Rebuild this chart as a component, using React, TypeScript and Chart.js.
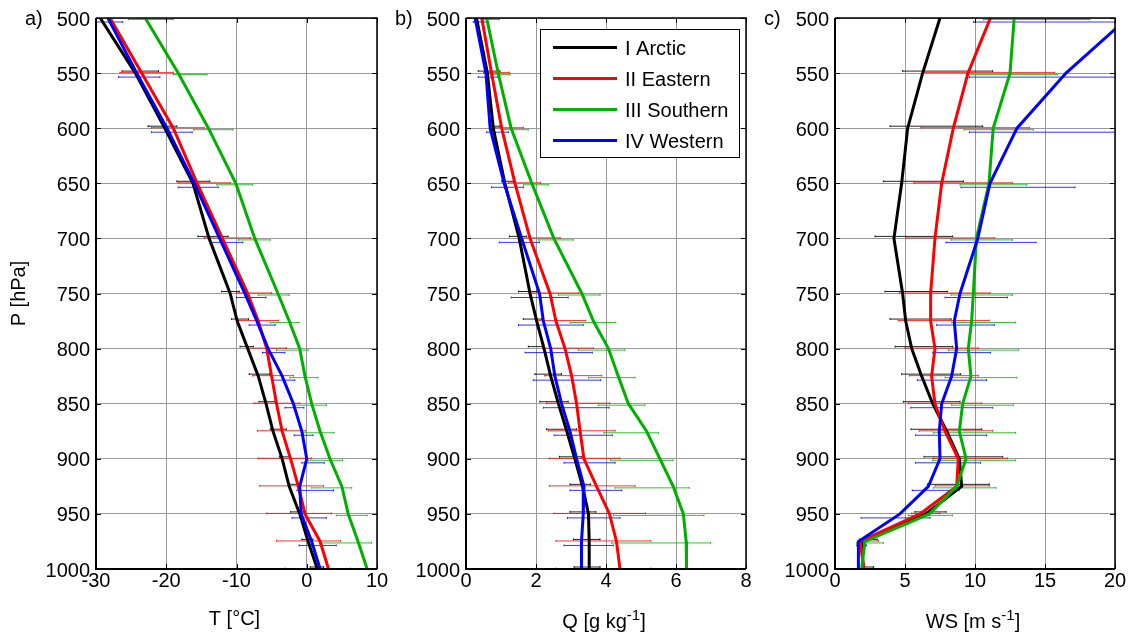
import React, { useEffect, useRef } from "react";
import { Chart, registerables } from "chart.js";

Chart.register(...registerables);

// ---------------- data ----------------
const levels = [500, 550, 600, 650, 700, 750, 775, 800, 825, 850, 875, 900, 925, 950, 975, 1000];

const pTicks = [500, 550, 600, 650, 700, 750, 800, 850, 900, 950, 1000];
const tTicks = [-30, -20, -10, 0, 10];
const qTicks = [0, 2, 4, 6, 8];
const wsTicks = [0, 5, 10, 15, 20];

const seriesNames = ["I Arctic", "II Eastern", "III Southern", "IV Western"];

// Temperature [°C]
const tArctic = [-29.4, -24.4, -20.2, -16.2, -13.9, -10.9, -9.9, -8.4, -6.9, -5.8, -4.8, -3.5, -2.5, -1.0, 0.2, 1.5];
const tEastern = [-28.0, -23.5, -19.0, -15.6, -12.0, -8.4, -6.9, -5.7, -5.0, -4.3, -3.5, -2.3, -1.2, -0.25, 1.9, 3.1];
const tSouthern = [-23.0, -18.3, -14.0, -10.1, -7.4, -4.1, -2.5, -1.0, -0.25, 0.7, 1.9, 3.3, 5.0, 5.9, 7.3, 8.6];
const tWestern = [-28.3, -24.2, -19.9, -16.0, -12.4, -8.8, -7.1, -5.5, -3.5, -1.9, -0.7, 0.0, -1.0, -0.8, 0.7, 1.9];

const tArcticLo = [-31, -26.3, -22.6, -18.5, -15.5, -12.1, -10.7, -9.5, -8.2, -6.8, -5.2, -3.9, -2.5, -2.3, -0.7, 0.5];
const tArcticHi = [-27, -21.1, -18.5, -13.8, -11.2, -9.6, -8.3, -7.6, -5.3, -4.5, -2.9, -2.4, -1.0, -0.2, 0.9, 2.4];
const tEasternLo = [-31, -26.6, -22.1, -18.3, -14.6, -10.0, -9.7, -8.5, -7.7, -7.5, -7.0, -6.9, -6.7, -5.7, -4.3, -3.1];
const tEasternHi = [-23.3, -19.0, -14.6, -10.9, -8.0, -5.0, -4.0, -2.9, -1.9, -1.0, -0.2, 0.7, 2.4, 3.5, 4.8, 6.2];
const tSouthernLo = [-25.4, -19.0, -16.1, -12.8, -9.7, -6.9, -5.2, -4.3, -2.4, -1.9, -0.7, 0.2, 0.7, 4.2, 2.1, 3.0];
const tSouthernHi = [-19.0, -14.2, -10.5, -7.7, -5.2, -2.5, -1.1, 0.2, 1.6, 2.8, 3.9, 5.1, 6.4, 8.6, 9.2, 12.0];
const tWesternLo = [-31, -26.8, -22.1, -18.3, -13.8, -10.0, -8.2, -6.3, -4.8, -3.1, -1.8, -0.7, -1.4, -2.1, -1.1, -1.0];
const tWesternHi = [-26.2, -20.9, -16.3, -12.6, -9.1, -5.8, -4.5, -3.1, -1.7, -0.4, 0.9, 2.5, 3.8, 2.8, 4.2, 4.5];

// Specific humidity [g/kg]
const qArctic = [0.30, 0.61, 0.78, 1.11, 1.52, 1.83, 2.02, 2.23, 2.42, 2.64, 2.88, 3.11, 3.33, 3.50, 3.52, 3.52];
const qEastern = [0.45, 0.73, 1.02, 1.40, 1.83, 2.40, 2.57, 2.83, 3.02, 3.16, 3.26, 3.37, 3.73, 4.10, 4.30, 4.40];
const qSouthern = [0.59, 0.92, 1.29, 1.88, 2.51, 3.31, 3.64, 4.07, 4.35, 4.64, 5.16, 5.54, 5.92, 6.21, 6.29, 6.30];
const qWestern = [0.26, 0.57, 0.69, 1.09, 1.59, 2.10, 2.21, 2.42, 2.54, 2.73, 2.97, 3.16, 3.37, 3.35, 3.30, 3.30];

const qArcticLo = [0.23, 0.35, 0.73, 1.02, 1.24, 1.50, 1.64, 1.78, 1.97, 2.11, 2.30, 2.67, 2.97, 2.97, 3.07, 3.09];
const qArcticHi = [0.47, 0.97, 0.97, 1.35, 1.73, 2.02, 2.16, 2.21, 2.73, 2.92, 3.16, 3.31, 3.56, 3.71, 3.83, 3.83];
const qEasternLo = [0.35, 0.50, 0.83, 1.21, 1.50, 1.83, 2.02, 2.18, 2.24, 2.30, 2.35, 2.38, 2.38, 2.51, 2.57, 2.57];
const qEasternHi = [0.92, 1.24, 1.64, 2.13, 2.69, 3.21, 3.42, 3.64, 3.88, 4.11, 4.26, 4.40, 4.83, 5.13, 5.28, 5.28];
const qSouthernLo = [0.50, 0.69, 1.11, 1.64, 2.07, 2.64, 2.97, 3.21, 3.50, 3.78, 3.94, 4.13, 4.26, 4.21, 4.16, 4.20];
const qSouthernHi = [0.95, 1.26, 1.78, 2.35, 3.07, 3.83, 4.28, 4.54, 4.83, 5.11, 5.50, 5.92, 6.38, 6.80, 6.99, 7.00];
const qWesternLo = [0.21, 0.35, 0.59, 0.73, 0.95, 1.29, 1.50, 1.69, 1.92, 2.21, 2.52, 2.80, 2.97, 2.90, 2.80, 2.80];
const qWesternHi = [0.59, 0.91, 1.21, 1.64, 2.10, 2.92, 3.35, 3.61, 3.85, 4.09, 4.18, 4.26, 4.45, 4.40, 4.21, 4.20];

// Wind speed [m/s]
const wArctic = [7.5, 6.26, 5.19, 4.76, 4.21, 4.83, 5.05, 5.48, 6.19, 6.98, 7.98, 8.88, 9.05, 6.48, 1.9, 2.02];
const wEastern = [11.1, 9.5, 8.45, 7.62, 7.14, 6.83, 6.83, 7.14, 6.9, 7.14, 7.86, 8.81, 8.69, 6.07, 1.79, 2.07];
const wSouthern = [12.8, 12.5, 11.3, 11.0, 10.1, 9.88, 9.76, 9.52, 9.71, 9.12, 8.88, 9.36, 8.69, 6.74, 2.14, 1.9];
const wWestern = [20.9, 16.5, 13.0, 11.07, 10.2, 8.93, 8.52, 8.69, 8.33, 7.62, 7.45, 7.5, 6.67, 4.64, 1.67, 1.67];

const wArcticLo = [4.5, 4.83, 3.93, 3.45, 2.86, 3.57, 3.93, 4.29, 4.76, 4.88, 5.43, 6.36, 6.6, 5.71, 1.74, 1.9];
const wArcticHi = [10.5, 11.26, 10.55, 9.17, 8.4, 8.02, 8.29, 8.4, 8.98, 8.93, 10.48, 11.98, 11.02, 7.93, 3.02, 2.74];
const wEasternLo = [6.55, 6.31, 6.12, 5.64, 5.07, 4.6, 4.52, 5.0, 5.31, 5.24, 6.02, 7.02, 7.14, 5.48, 1.79, 2.0];
const wEasternHi = [16.7, 15.7, 13.9, 12.67, 11.38, 11.07, 11.02, 10.24, 10.24, 10.48, 11.26, 12.31, 11.02, 7.5, 3.1, 2.8];
const wSouthernLo = [10.6, 9.4, 9.21, 8.93, 8.29, 8.29, 8.33, 8.1, 7.86, 8.33, 7.02, 6.98, 7.02, 5.24, 1.55, 1.5];
const wSouthernHi = [18.2, 15.9, 14.17, 13.7, 12.67, 12.67, 12.9, 13.1, 12.98, 12.74, 12.9, 12.9, 11.5, 8.4, 3.45, 2.5];
const wWesternLo = [9.9, 9.6, 9.6, 9.0, 7.93, 7.86, 7.26, 6.98, 5.88, 5.41, 5.76, 5.76, 5.52, 1.86, 1.55, 1.5];
const wWesternHi = [32, 23.4, 20.2, 17.14, 14.36, 12.31, 11.38, 11.12, 10.83, 11.26, 10.83, 10.4, 8.86, 6.79, 2.26, 2.0];

// ---------------- styles ----------------
const FONT = "'Liberation Sans', Arial, Helvetica, sans-serif";
const H = 637;
const lineColors = ["#000000", "#ff0000", "#00b000", "#0000ff"];
const barColors = ["rgba(0,0,0,0.85)", "rgba(255,0,0,0.8)", "rgba(0,176,0,0.8)", "rgba(0,0,255,0.8)"];
const barOffsets = [-2, -0.5, 1.5, 4];
const drawOrder = [4, 3, 2, 1];

type PanelDef = {
  id: string;
  label: string;
  xMin: number;
  xMax: number;
  xTicks: number[];
  title: string;
  sup: string;
  tail: string;
  titleBaseline: number;
  means: number[][];
  lo: number[][];
  hi: number[][];
  legend: boolean;
  yTitle: boolean;
  canvasLeft: number;
  canvasWidth: number;
  yAxisWidth: number;
  padRight: number;
};

const panels: PanelDef[] = [
  {
    id: "a", label: "a)", xMin: -30, xMax: 10, xTicks: tTicks,
    title: "T [°C]", sup: "", tail: "", titleBaseline: 625,
    means: [tArctic, tEastern, tSouthern, tWestern],
    lo: [tArcticLo, tEasternLo, tSouthernLo, tWesternLo],
    hi: [tArcticHi, tEasternHi, tSouthernHi, tWesternHi],
    legend: false, yTitle: true,
    canvasLeft: 0, canvasWidth: 400, yAxisWidth: 96, padRight: 23,
  },
  {
    id: "b", label: "b)", xMin: 0, xMax: 8, xTicks: qTicks,
    title: "Q [g kg", sup: "-1", tail: "]", titleBaseline: 628,
    means: [qArctic, qEastern, qSouthern, qWestern],
    lo: [qArcticLo, qEasternLo, qSouthernLo, qWesternLo],
    hi: [qArcticHi, qEasternHi, qSouthernHi, qWesternHi],
    legend: true, yTitle: false,
    canvasLeft: 380, canvasWidth: 400, yAxisWidth: 86, padRight: 34,
  },
  {
    id: "c", label: "c)", xMin: 0, xMax: 20, xTicks: wsTicks,
    title: "WS [m s", sup: "-1", tail: "]", titleBaseline: 628,
    means: [wArctic, wEastern, wSouthern, wWestern],
    lo: [wArcticLo, wEasternLo, wSouthernLo, wWesternLo],
    hi: [wArcticHi, wEasternHi, wSouthernHi, wWesternHi],
    legend: false, yTitle: false,
    canvasLeft: 760, canvasWidth: 371, yAxisWidth: 75, padRight: 16,
  },
];

function makeDecor(panel: PanelDef) {
  return {
    id: "decor" + panel.id,
    beforeDatasetsDraw(chart: any) {
      const { ctx, chartArea: ca, scales } = chart;
      const x = scales.x;
      const y = scales.y;
      ctx.save();
      ctx.beginPath();
      ctx.rect(ca.left, ca.top, ca.right - ca.left, ca.bottom - ca.top);
      ctx.clip();
      ctx.lineWidth = 1;
      for (let s = 0; s < panel.means.length; s++) {
        ctx.strokeStyle = barColors[s];
        for (let i = 0; i < levels.length; i++) {
          const py = y.getPixelForValue(levels[i]) + barOffsets[s];
          const x0 = x.getPixelForValue(panel.lo[s][i]);
          const x1 = x.getPixelForValue(panel.hi[s][i]);
          ctx.beginPath();
          ctx.moveTo(x0, py);
          ctx.lineTo(x1, py);
          ctx.moveTo(x0, py - 1);
          ctx.lineTo(x0, py + 1);
          ctx.moveTo(x1, py - 1);
          ctx.lineTo(x1, py + 1);
          ctx.stroke();
        }
      }
      ctx.restore();
    },
    afterDraw(chart: any) {
      const { ctx, chartArea: ca, scales } = chart;
      const x = scales.x;
      const y = scales.y;
      ctx.save();
      // inner tick marks
      ctx.strokeStyle = "#000";
      ctx.lineWidth = 1;
      ctx.beginPath();
      for (const t of panel.xTicks) {
        const px = Math.round(x.getPixelForValue(t)) + 0.5;
        ctx.moveTo(px, ca.top);
        ctx.lineTo(px, ca.top + 5);
        ctx.moveTo(px, ca.bottom);
        ctx.lineTo(px, ca.bottom - 5);
      }
      for (const t of pTicks) {
        const py = Math.round(y.getPixelForValue(t)) + 0.5;
        ctx.moveTo(ca.left, py);
        ctx.lineTo(ca.left + 5, py);
        ctx.moveTo(ca.right, py);
        ctx.lineTo(ca.right - 5, py);
      }
      ctx.stroke();
      // box
      ctx.lineWidth = 1.5;
      ctx.beginPath();
      ctx.moveTo(ca.left, ca.top);
      ctx.lineTo(ca.right, ca.top);
      ctx.lineTo(ca.right, ca.bottom);
      ctx.stroke();
      ctx.lineWidth = 2;
      ctx.beginPath();
      ctx.moveTo(ca.left, ca.top);
      ctx.lineTo(ca.left, ca.bottom);
      ctx.lineTo(ca.right, ca.bottom);
      ctx.stroke();

      // legend
      if (panel.legend) {
        const bx = ca.right - 206;
        const by = ca.top + 11;
        const bw = 199;
        const bh = 128;
        ctx.fillStyle = "#ffffff";
        ctx.fillRect(bx, by, bw, bh);
        ctx.strokeStyle = "#000";
        ctx.lineWidth = 1;
        ctx.strokeRect(bx + 0.5, by + 0.5, bw, bh);
        ctx.font = `20px ${FONT}`;
        ctx.textAlign = "left";
        ctx.textBaseline = "middle";
        chart.data.datasets.forEach((ds: any, i: number) => {
          const ly = by + 18.5 + i * 31;
          ctx.strokeStyle = ds.borderColor;
          ctx.lineWidth = 3;
          ctx.beginPath();
          ctx.moveTo(bx + 13, ly);
          ctx.lineTo(bx + 77, ly);
          ctx.stroke();
          ctx.fillStyle = "#000";
          ctx.fillText(ds.label, bx + 85, ly + 1.6);
        });
      }

      // panel label
      ctx.fillStyle = "#000";
      ctx.font = `20px ${FONT}`;
      ctx.textAlign = "left";
      ctx.textBaseline = "alphabetic";
      ctx.fillText(panel.label, ca.left - 71, 25);

      // x title with optional superscript
      const supFont = `15px ${FONT}`;
      const mainFont = `20px ${FONT}`;
      ctx.font = mainFont;
      const w1 = ctx.measureText(panel.title).width;
      const w3 = panel.tail ? ctx.measureText(panel.tail).width : 0;
      ctx.font = supFont;
      const w2 = panel.sup ? ctx.measureText(panel.sup).width : 0;
      let tx = (ca.left + ca.right) / 2 - 2 - (w1 + w2 + w3) / 2;
      const bl = panel.titleBaseline;
      ctx.font = mainFont;
      ctx.fillText(panel.title, tx, bl);
      tx += w1;
      if (panel.sup) {
        ctx.font = supFont;
        ctx.fillText(panel.sup, tx, bl - 8);
        tx += w2;
      }
      if (panel.tail) {
        ctx.font = mainFont;
        ctx.fillText(panel.tail, tx, bl);
      }

      // y title
      if (panel.yTitle) {
        ctx.save();
        ctx.translate(19.5, (ca.top + ca.bottom) / 2);
        ctx.rotate(-Math.PI / 2);
        ctx.font = mainFont;
        ctx.textAlign = "center";
        ctx.textBaseline = "middle";
        ctx.fillText("P [hPa]", 0, 0);
        ctx.restore();
      }
      ctx.restore();
    },
  };
}

function PanelChart({ panel }: { panel: PanelDef }) {
  const ref = useRef<HTMLCanvasElement | null>(null);
  useEffect(() => {
    if (!ref.current) return;
    const datasets = panel.means.map((vals, s) => ({
      label: seriesNames[s],
      data: vals.map((v, i) => ({ x: v, y: levels[i] })),
      borderColor: lineColors[s],
      backgroundColor: lineColors[s],
      borderWidth: 3,
      pointRadius: 0,
      pointHoverRadius: 0,
      showLine: true,
      tension: 0,
      order: drawOrder[s],
      clip: 0,
    }));
    const tickFont = { family: FONT, size: 20 };
    const plain = (v: any) => String(v);
    const chart = new Chart(ref.current, {
      type: "scatter",
      data: { datasets },
      options: {
        responsive: false,
        maintainAspectRatio: false,
        animation: false,
        events: [],
        layout: { padding: { left: 0, right: panel.padRight, top: 17, bottom: 0 } },
        plugins: { legend: { display: false }, tooltip: { enabled: false }, title: { display: false } },
        scales: {
          x: {
            type: "linear",
            min: panel.xMin,
            max: panel.xMax,
            afterBuildTicks: (scale: any) => {
              scale.ticks = panel.xTicks.map((v) => ({ value: v }));
            },
            ticks: { font: tickFont, color: "#000", padding: 0, maxRotation: 0, autoSkip: false, callback: plain },
            grid: { color: "#9a9a9a", lineWidth: 1, drawTicks: false },
            border: { display: false },
            afterFit: (scale: any) => {
              scale.height = 68;
            },
          },
          y: {
            type: "linear",
            reverse: true,
            min: 500,
            max: 1000,
            afterBuildTicks: (scale: any) => {
              scale.ticks = pTicks.map((v) => ({ value: v }));
            },
            ticks: { font: tickFont, color: "#000", padding: 6, labelOffset: 2, autoSkip: false, callback: plain },
            grid: { color: "#9a9a9a", lineWidth: 1, drawTicks: false },
            border: { display: false },
            afterFit: (scale: any) => {
              scale.width = panel.yAxisWidth;
            },
          },
        },
      } as any,
      plugins: [makeDecor(panel)],
    });
    return () => chart.destroy();
  }, [panel]);
  return (
    <canvas
      ref={ref}
      width={panel.canvasWidth}
      height={H}
      style={{ position: "absolute", left: panel.canvasLeft, top: 0, width: panel.canvasWidth, height: H, display: "block" }}
    />
  );
}

export default function App() {
  return (
    <div style={{ position: "absolute", left: 0, top: 0, width: 1131, height: H, background: "#fff", overflow: "hidden" }}>
      {panels.map((p) => (
        <PanelChart key={p.id} panel={p} />
      ))}
    </div>
  );
}
